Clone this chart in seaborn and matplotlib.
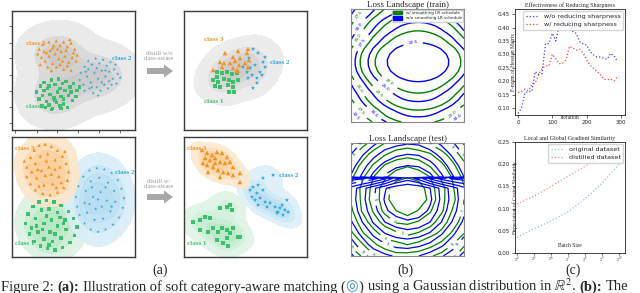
import numpy as np
import pandas as pd
import matplotlib
matplotlib.use("Agg")
import matplotlib.pyplot as plt
from matplotlib.patches import Patch
import seaborn as sns

# ---------------- (a) point clouds, each box is 0..10 x 0..10 ----------------
tl_class3 = [(2.2, 6.8), (2.5, 7.2), (2.8, 6.5), (3.0, 7.4), (3.3, 6.9), (3.6, 7.5), (3.9, 7.1), (4.2, 7.4),
             (4.5, 7.0), (4.8, 7.3), (5.1, 6.8), (5.3, 6.3), (2.4, 6.1), (2.7, 5.8), (3.0, 6.2), (3.3, 5.6),
             (3.5, 6.4), (3.8, 6.0), (4.0, 6.6), (4.3, 6.2), (4.6, 5.7), (4.9, 6.1), (5.2, 5.8), (2.9, 5.3),
             (3.2, 5.0), (3.6, 5.3), (3.9, 5.5), (4.2, 5.1), (4.5, 5.4), (4.8, 5.0), (2.6, 6.6), (3.1, 6.7),
             (3.7, 6.8), (4.4, 6.7), (5.0, 6.5), (2.1, 6.4), (3.4, 7.1), (4.1, 5.8), (2.3, 5.5), (4.7, 7.6)]
tl_class2 = [(5.6, 4.8), (5.9, 5.3), (6.2, 5.8), (6.5, 5.5), (6.8, 6.0), (7.1, 5.6), (7.4, 5.9), (7.7, 5.4),
             (8.0, 5.7), (8.3, 5.1), (8.6, 4.7), (5.5, 4.2), (5.8, 3.8), (6.1, 4.5), (6.4, 4.0), (6.7, 4.8),
             (7.0, 4.3), (7.3, 5.0), (7.6, 4.5), (7.9, 4.9), (8.2, 4.3), (8.5, 3.9), (5.9, 3.3), (6.3, 3.5),
             (6.6, 3.1), (6.9, 3.6), (7.2, 3.3), (7.5, 3.8), (7.8, 3.5), (8.1, 3.8), (6.0, 4.9), (6.9, 5.2),
             (7.6, 5.0), (8.4, 5.5), (7.3, 4.0), (6.5, 3.6), (8.8, 4.4), (6.2, 5.1), (7.9, 4.1), (7.0, 2.9)]
tl_class1 = [(2.0, 3.2), (2.3, 3.7), (2.6, 4.0), (2.9, 3.5), (3.2, 4.2), (3.5, 3.8), (3.8, 4.3), (4.1, 3.9),
             (4.4, 4.1), (4.7, 3.6), (5.0, 3.9), (5.3, 3.3), (2.2, 2.6), (2.5, 2.9), (2.8, 2.4), (3.1, 3.0),
             (3.4, 2.7), (3.7, 3.2), (4.0, 2.8), (4.3, 3.3), (4.6, 2.9), (4.9, 2.5), (5.2, 2.8), (2.4, 2.0),
             (2.7, 1.9), (3.0, 2.1), (3.3, 1.8), (3.6, 2.3), (3.9, 2.0), (4.2, 2.2), (4.5, 1.9), (3.0, 3.7),
             (3.9, 3.5), (4.8, 3.2), (2.6, 3.3), (3.5, 2.5), (4.2, 2.6), (5.5, 3.6), (3.2, 1.7), (4.0, 1.8)]

tr_class3 = [(3.33, 6.47), (4.39, 6.64), (5.20, 6.81), (3.98, 6.13), (4.55, 6.05), (5.12, 6.47), (2.93, 5.71),
             (3.25, 5.63), (3.74, 5.63), (4.15, 5.80), (4.47, 5.46), (4.96, 5.63), (5.20, 5.29), (3.98, 5.21),
             (4.31, 5.04), (2.36, 5.04), (3.09, 5.29), (4.39, 4.96), (5.28, 5.88)]
tr_class2 = [(5.61, 6.81), (6.02, 6.47), (6.42, 5.71), (6.59, 5.29), (6.18, 4.87), (5.77, 5.46), (5.37, 5.21),
             (5.12, 4.87), (5.53, 4.62), (5.93, 4.37), (6.34, 4.62), (5.93, 3.95), (5.61, 3.53), (5.20, 4.37),
             (4.80, 5.29), (6.59, 6.13), (5.28, 6.05)]
tr_class1 = [(2.68, 4.87), (3.09, 4.79), (3.50, 4.87), (3.90, 4.71), (4.31, 4.79), (2.36, 4.20), (2.76, 4.03),
             (3.25, 4.29), (3.66, 4.20), (3.98, 4.03), (4.39, 4.20), (2.52, 3.70), (2.93, 3.61), (3.58, 3.78),
             (3.98, 3.61), (3.66, 3.19), (4.07, 3.19), (2.68, 4.45)]

bl_class3 = [(1.2, 7.5), (1.5, 8.3), (1.8, 8.9), (2.2, 9.3), (2.7, 9.4), (3.2, 9.2), (3.7, 8.9), (4.1, 8.4),
             (4.4, 7.8), (4.6, 7.1), (4.5, 6.4), (4.2, 5.8), (3.7, 5.4), (3.1, 5.2), (2.5, 5.3), (1.9, 5.6),
             (1.5, 6.1), (1.2, 6.7), (1.9, 7.8), (2.3, 8.4), (2.9, 8.6), (3.5, 8.1), (3.9, 7.5), (3.8, 6.7),
             (3.3, 6.1), (2.6, 6.0), (2.0, 6.6), (2.4, 7.2), (3.0, 7.5), (3.2, 6.9), (2.7, 6.8), (2.1, 7.3),
             (3.5, 7.3), (2.8, 8.0), (1.6, 7.1), (4.0, 6.2), (2.2, 5.9), (3.6, 5.8), (4.3, 8.8), (1.0, 8.0)]
bl_class2 = [(5.2, 5.0), (5.4, 5.9), (5.8, 6.7), (6.3, 7.2), (6.9, 7.4), (7.5, 7.3), (8.1, 7.0), (8.6, 6.4),
             (8.9, 5.7), (9.1, 4.9), (9.0, 4.1), (8.7, 3.3), (8.2, 2.7), (7.6, 2.3), (7.0, 2.1), (6.4, 2.3),
             (5.9, 2.8), (5.5, 3.5), (5.3, 4.2), (6.0, 5.5), (6.4, 6.3), (7.1, 6.6), (7.8, 6.2), (8.3, 5.5),
             (8.4, 4.6), (8.0, 3.8), (7.4, 3.2), (6.7, 3.1), (6.1, 3.7), (5.9, 4.5), (6.6, 5.0), (7.2, 5.4),
             (7.7, 4.7), (7.3, 4.2), (6.8, 4.0), (6.5, 5.8), (7.6, 5.8), (8.1, 4.2), (6.3, 4.4), (7.0, 4.8)]
bl_class1 = [(1.1, 2.8), (1.3, 3.6), (1.7, 4.2), (2.2, 4.6), (2.8, 4.7), (3.4, 4.6), (4.0, 4.3), (4.6, 3.8),
             (5.0, 3.2), (5.3, 2.5), (5.1, 1.8), (4.7, 1.2), (4.1, 0.8), (3.5, 0.6), (2.9, 0.7), (2.3, 0.9),
             (1.8, 1.3), (1.4, 1.9), (1.9, 3.2), (2.4, 3.9), (3.0, 4.0), (3.7, 3.7), (4.3, 3.1), (4.4, 2.3),
             (4.0, 1.6), (3.3, 1.3), (2.6, 1.5), (2.1, 2.1), (2.6, 2.8), (3.2, 3.1), (3.7, 2.6), (3.1, 2.1),
             (2.5, 2.3), (3.5, 1.9), (2.0, 2.6), (4.2, 2.8), (2.8, 3.4), (3.9, 3.3), (1.6, 2.4), (3.0, 1.0)]

br_class3 = [(1.46, 8.92), (1.87, 8.67), (2.28, 8.50), (2.68, 8.75), (3.09, 8.67), (3.50, 8.33), (1.71, 8.25),
             (2.11, 8.08), (2.52, 8.25), (2.93, 7.92), (3.33, 7.83), (3.74, 7.92), (3.98, 7.50), (1.87, 7.67),
             (2.36, 7.50), (2.76, 7.25), (3.17, 7.08), (3.58, 7.00), (3.98, 6.83), (2.93, 6.67), (4.55, 7.00),
             (4.55, 6.25), (1.95, 7.08), (2.52, 7.83), (1.54, 7.83)]
br_class2 = [(5.61, 5.83), (6.02, 6.00), (6.42, 5.58), (5.93, 5.33), (5.53, 5.00), (5.77, 4.75), (6.18, 4.92),
             (6.59, 4.58), (6.99, 4.50), (7.40, 4.17), (7.80, 4.08), (8.21, 3.92), (7.64, 3.75), (8.05, 3.50),
             (8.37, 4.75), (7.24, 6.83), (6.42, 6.58), (6.02, 4.33), (5.37, 5.58), (6.75, 4.17), (7.97, 4.33),
             (7.56, 3.67), (8.46, 3.75)]
br_class1 = [(0.73, 2.92), (1.30, 3.08), (1.71, 3.33), (2.11, 3.25), (2.93, 4.08), (3.50, 4.17), (3.90, 3.92),
             (3.74, 4.33), (1.30, 2.25), (2.36, 2.42), (2.76, 2.08), (3.09, 2.42), (3.50, 2.25), (3.74, 2.00),
             (3.98, 2.42), (4.39, 1.67), (3.50, 1.58), (3.17, 1.17), (3.58, 0.92), (4.55, 1.67), (2.68, 1.42),
             (1.95, 2.08)]

# ---------------- (b) loss landscapes ----------------
# train: squared-radius profiles along the two directions (21 x 21 grid over the panel)
train_grid_x = np.linspace(-67, 46, 21)
train_grid_y = np.linspace(-60, 53, 21)
train_fx = [44.9, 37.6, 31.0, 25.05, 19.7, 15.0, 10.96, 7.54, 4.75, 2.61, 1.10, 0.24, 0.01, 0.42, 1.46,
            3.15, 5.48, 8.44, 12.04, 16.28, 21.16]
train_gy = [46.2, 39.1, 34.2, 28.1, 23.0, 19.0, 14.4, 10.2, 5.61, 2.14, 0.31, 0.12, 1.56, 4.63, 9.35,
            13.3, 17.9, 22.0, 26.7, 32.9, 37.9]
train_blue_levels = [9.61, 25.0, 39.7, 56.25, 77.4]
train_blue_labels = ["22.5", "25.0", "27.5", "30.0", "32.5"]
train_green_levels = [18.5, 33.6, 49.0, 67.2, 90.0]
train_green_labels = ["20.0", "22.5", "25.0", "27.5", "30.0"]

# test: coarse grid (11 x 11), rows bottom -> top
test_x = np.arange(11)
test_green_y = np.arange(11)
test_green = [
    [9.7, 8.9, 8.1, 7.8, 7.3, 7.4, 7.5, 7.9, 8.3, 8.8, 9.6],
    [8.8, 8.1, 7.2, 6.5, 6.3, 6.0, 6.3, 6.7, 7.3, 8.0, 8.9],
    [8.2, 7.1, 6.4, 5.5, 5.2, 4.8, 5.1, 5.7, 6.2, 7.2, 8.0],
    [7.5, 6.6, 5.4, 4.7, 3.9, 3.8, 4.1, 4.5, 5.6, 6.4, 7.6],
    [7.2, 5.9, 4.9, 3.7, 3.0, 2.4, 3.1, 3.9, 4.8, 6.1, 7.1],
    [6.9, 5.8, 4.5, 3.5, 2.1, 1.4, 2.3, 3.3, 4.7, 5.7, 7.0],
    [7.1, 5.7, 4.7, 3.4, 2.5, 1.9, 2.4, 3.6, 4.6, 5.9, 6.9],
    [7.2, 6.2, 5.0, 4.2, 3.3, 3.1, 3.4, 4.0, 5.2, 6.1, 7.3],
    [7.8, 6.7, 5.9, 4.9, 4.5, 4.1, 4.4, 5.1, 5.7, 6.8, 7.7],
    [8.3, 7.5, 6.6, 6.1, 5.5, 5.4, 5.6, 5.9, 6.7, 7.4, 8.5],
    [9.2, 8.3, 7.7, 7.0, 6.8, 6.5, 6.7, 7.1, 7.6, 8.4, 9.1],
]
# blue test surface has a spike row just below row 7 (the dense band)
test_blue_y = [0, 1, 2, 3, 4, 5, 6, 6.86, 7, 8, 9, 10]
test_blue = [
    [10.2, 9.3, 8.7, 8.2, 7.9, 7.8, 8.0, 8.4, 8.9, 9.5, 10.3],
    [9.4, 8.5, 7.6, 7.1, 6.7, 6.6, 6.8, 7.2, 7.8, 8.6, 9.5],
    [8.7, 7.7, 6.8, 6.0, 5.6, 5.4, 5.6, 6.1, 6.9, 7.8, 8.8],
    [8.1, 7.0, 5.9, 5.0, 4.5, 4.2, 4.4, 5.0, 6.0, 7.1, 8.2],
    [7.7, 6.5, 5.4, 4.2, 3.5, 3.1, 3.4, 4.2, 5.5, 6.6, 7.8],
    [7.5, 6.3, 5.1, 3.9, 2.8, 2.4, 2.7, 3.8, 5.2, 6.4, 7.6],
    [7.6, 6.4, 5.2, 4.1, 3.3, 3.0, 3.2, 4.0, 5.3, 6.5, 7.7],
    [10.5, 10.2, 9.4, 8.2, 6.4, 5.5, 6.4, 8.2, 9.4, 10.2, 10.5],
    [7.9, 6.8, 5.7, 4.8, 4.2, 4.0, 4.1, 4.7, 5.8, 6.9, 8.0],
    [8.4, 7.4, 6.4, 5.7, 5.2, 5.0, 5.1, 5.6, 6.5, 7.5, 8.5],
    [9.0, 8.1, 7.3, 6.6, 6.2, 6.0, 6.1, 6.6, 7.3, 8.2, 9.1],
    [9.7, 8.9, 8.2, 7.6, 7.3, 7.1, 7.2, 7.6, 8.2, 8.9, 9.8],
]
test_green_levels = [3, 4, 5, 6, 7, 8, 9]
test_blue_levels = [4, 5, 6, 7, 8, 9, 10]

# ---------------- (c) ----------------
iterations = list(range(0, 300, 10))
wo_sharp = [0.08, 0.10, 0.156, 0.162, 0.162, 0.236, 0.225, 0.228, 0.34, 0.34, 0.378, 0.35, 0.405, 0.43, 0.44,
            0.41, 0.385, 0.378, 0.347, 0.339, 0.335, 0.31, 0.298, 0.29, 0.29, 0.285, 0.282, 0.304, 0.294, 0.273]
w_sharp = [0.158, 0.162, 0.17, 0.165, 0.187, 0.193, 0.224, 0.248, 0.257, 0.257, 0.30, 0.285, 0.265, 0.267, 0.28,
           0.33, 0.323, 0.316, 0.319, 0.304, 0.28, 0.26, 0.248, 0.236, 0.224, 0.208, 0.205, 0.208, 0.201, 0.217]
batch_exp = [4, 5, 6, 7, 8, 9, 10]
orig_sim = [0.035, 0.055, 0.072, 0.093, 0.122, 0.157, 0.20]
dist_sim = [0.11, 0.128, 0.15, 0.173, 0.195, 0.22, 0.245]

# ---------------- figure ----------------
sns.set_theme(style="white")
plt.rcParams["font.family"] = ["DejaVu Sans"]
plt.rcParams["mathtext.fontset"] = "stix"
SERIF = ["Liberation Serif", "DejaVu Serif"]

W, H = 640, 293
fig = plt.figure(figsize=(W / 100, H / 100), dpi=100)
fig.patch.set_facecolor("white")


def px_axes(x0, y0, x1, y1):
    return fig.add_axes([x0 / W, 1 - y1 / H, (x1 - x0) / W, (y1 - y0) / H])


C1, C2, C3 = "#3cc06a", "#2aa6dc", "#f7921e"
palette = {"class 1": C1, "class 2": C2, "class 3": C3}
markers = {"class 1": "s", "class 2": "*", "class 3": "^"}
shade = {"class 1": ["#e6f6eb", "#b0e4c0"], "class 2": ["#e4f2fa", "#acd9ef"],
         "class 3": ["#fdeedb", "#f9c98f"]}
gray_shade = sns.blend_palette(["#f3f3f3", "#c9c9c9"], as_cmap=True)


def to_frame(c1, c2, c3):
    rows = []
    for name, pts in (("class 1", c1), ("class 2", c2), ("class 3", c3)):
        for x, y in pts:
            rows.append((name, x, y))
    return pd.DataFrame(rows, columns=["cls", "x", "y"])


def cloud_panel(ax, df, colored, msize, labels, ticks=False):
    if colored:
        for name, sub in df.groupby("cls"):
            sns.kdeplot(data=sub, x="x", y="y", fill=True, levels=5, thresh=0.05, bw_adjust=1.1,
                        cmap=sns.blend_palette(shade[name], as_cmap=True), alpha=0.9, ax=ax)
    else:
        sns.kdeplot(data=df, x="x", y="y", fill=True, cmap=gray_shade, levels=5, thresh=0.02,
                    bw_adjust=1.3, ax=ax)
    sns.scatterplot(data=df, x="x", y="y", hue="cls", style="cls", palette=palette, markers=markers,
                    s=msize, linewidth=0, legend=False, ax=ax)
    for name, (lx, ly) in labels.items():
        ax.text(lx, ly, name, color=palette[name], fontsize=5, fontweight="bold", family=SERIF,
                va="center")
    ax.set_xlim(0, 10)
    ax.set_ylim(0, 10)
    ax.set_xlabel("")
    ax.set_ylabel("")
    for s in ax.spines.values():
        s.set_color("#3a3a3a")
        s.set_linewidth(1.0)
    if ticks:
        ax.set_xticks([0.24, 2.03, 3.66, 5.37, 7.07, 8.78])
        ax.set_yticks([0.59, 1.93, 3.28, 4.62, 6.05, 7.31, 8.74])
        ax.tick_params(left=True, bottom=True, length=2, width=0.6, color="#555555",
                       labelleft=False, labelbottom=False, direction="out")
    else:
        ax.set_xticks([])
        ax.set_yticks([])


ax = px_axes(12, 11, 135, 130)
cloud_panel(ax, to_frame(tl_class1, tl_class2, tl_class3), False, 6,
            {"class 3": (1.1, 7.3), "class 2": (8.1, 6.0), "class 1": (1.1, 2.0)}, ticks=True)
ax = px_axes(184, 11, 307, 130)
cloud_panel(ax, to_frame(tr_class1, tr_class2, tr_class3), False, 11,
            {"class 3": (1.6, 7.6), "class 2": (7.0, 5.7), "class 1": (1.6, 2.4)})
ax = px_axes(12, 137, 135, 257)
cloud_panel(ax, to_frame(bl_class1, bl_class2, bl_class3), True, 6,
            {"class 3": (0.25, 9.0), "class 2": (8.4, 7.0), "class 1": (0.25, 1.1)})
ax = px_axes(184, 137, 307, 257)
cloud_panel(ax, to_frame(br_class1, br_class2, br_class3), True, 11,
            {"class 3": (0.25, 9.0), "class 2": (7.7, 6.8), "class 1": (0.25, 1.1)})

# ---- (b) ----
ax = px_axes(351, 9, 464, 122)
z_train = np.add.outer(train_gy, train_fx)
cg = ax.contour(train_grid_x, train_grid_y, z_train, levels=train_green_levels, colors="green",
                linewidths=1.0)
cb = ax.contour(train_grid_x, train_grid_y, z_train, levels=train_blue_levels, colors="blue",
                linewidths=1.0)
ax.clabel(cg, fontsize=3.2, fmt=dict(zip(train_green_levels, train_green_labels)))
ax.clabel(cb, fontsize=3.2, fmt=dict(zip(train_blue_levels, train_blue_labels)))
ax.set_xlim(-67, 46)
ax.set_ylim(-60, 53)
ax.legend(handles=[Patch(color="green", label="w/ smoothing LR schedule"),
                   Patch(color="blue", label="w/o smoothing LR schedule")],
          loc="upper right", fontsize=3, handlelength=2.2, handleheight=0.8, borderpad=0.3,
          labelspacing=0.3, borderaxespad=0.2, framealpha=0.9)
ax.set_title("Loss Landscape (train)", fontsize=6.4, family=SERIF, pad=1.5)

ax2 = px_axes(351, 143, 464, 256)
cg = ax2.contour(test_x, test_green_y, np.array(test_green), levels=test_green_levels, colors="green",
                 linewidths=0.9)
cb = ax2.contour(test_x, test_blue_y, np.array(test_blue), levels=test_blue_levels, colors="blue",
                 linewidths=0.9)
ax2.clabel(cg, fontsize=3, fmt="%d")
ax2.clabel(cb, [5, 7, 9], fontsize=3, fmt="%d")
ax2.set_xlim(0, 10)
ax2.set_ylim(0, 10)
ax2.set_title("Loss Landscape (test)", fontsize=6.4, family=SERIF, pad=1.5)
for a in (ax, ax2):
    a.set_xticks([])
    a.set_yticks([])
    for s in a.spines.values():
        s.set_color("#888888")
        s.set_linewidth(0.8)

# ---- (c) ----
ax = px_axes(515, 9, 625, 115)
df_sharp = pd.DataFrame({"iter": iterations * 2,
                         "val": wo_sharp + w_sharp,
                         "kind": ["w/o reducing sharpness"] * len(iterations) + ["w/ reducing sharpness"] * len(iterations)})
sns.lineplot(data=df_sharp, x="iter", y="val", hue="kind", palette=["blue", "red"], ax=ax,
             linestyle=":", linewidth=0.9, alpha=0.75)
ax.set_xlim(-9, 312)
ax.set_ylim(0.074, 0.469)
ax.set_xticks([0, 100, 200, 300])
ax.set_yticks([0.10, 0.15, 0.20, 0.25, 0.30, 0.35, 0.40, 0.45])
ax.set_title("Effectiveness of Reducing Sharpness", fontsize=4.3, family=SERIF, pad=1.5)
ax.set_xlabel("")
ax.set_ylabel("")
ax.text(-0.01, 0.5, "F-norm of Hessian Matrix", rotation=90, transform=ax.transAxes, ha="center",
        va="center", fontsize=4, family=SERIF)
ax.text(0.5, -0.02, "Iteration", transform=ax.transAxes, ha="center", va="center", fontsize=4, family=SERIF)
ax.legend(loc="upper right", fontsize=4.6, handlelength=2, borderpad=0.4, labelspacing=0.4,
          borderaxespad=0.3)

ax3 = px_axes(515, 142, 625, 253)
df_sim = pd.DataFrame({"b": batch_exp * 2, "val": orig_sim + dist_sim,
                       "kind": ["original dataset"] * 7 + ["distilled dataset"] * 7})
sns.lineplot(data=df_sim, x="b", y="val", hue="kind", palette=["#7fc8ee", "#ff8a8a"], ax=ax3,
             linestyle=":", linewidth=0.9)
ax3.set_xlim(3.88, 10.35)
ax3.set_ylim(0, 0.25)
ax3.set_xticks(batch_exp)
ax3.set_xticklabels([f"$2^{{{b}}}$" for b in batch_exp])
ax3.set_yticks([0.0, 0.05, 0.10, 0.15, 0.20, 0.25])
ax3.set_title("Local and Global Gradient Similarity", fontsize=4.3, family=SERIF, pad=1.5)
ax3.set_xlabel("")
ax3.set_ylabel("")
ax3.text(0.005, 0.5, "Expectation of Cosine Similarity", rotation=90, transform=ax3.transAxes,
         ha="center", va="center", fontsize=4, family=SERIF)
ax3.text(0.5, 0.07, "Batch Size", transform=ax3.transAxes, ha="center", va="center", fontsize=4, family=SERIF)
ax3.legend(loc="upper right", fontsize=4.6, handlelength=2, borderpad=0.4, labelspacing=0.4,
           borderaxespad=0.3)
for a in (ax, ax3):
    a.tick_params(left=True, bottom=True, length=2, width=0.5, pad=1.5, labelsize=4, color="#333333")
    for s in a.spines.values():
        s.set_color("#222222")
        s.set_linewidth(0.6)
ax3.tick_params(axis="x", labelsize=3.0, pad=0.3, length=1.2)

# ---- overlay: arrows, sub-captions, caption ----
ov = fig.add_axes([0, 0, 1, 1])
ov.set_xlim(0, W)
ov.set_ylim(H, 0)
ov.axis("off")
ov.patch.set_alpha(0)
for y_txt, y_arr, txt in ((56, 71, "distill w/o\nclass-aware"), (184, 197, "distill w/\nclass-aware")):
    ov.text(159, y_txt, txt, ha="center", va="center", fontsize=4.7, color="#9a9a9a", family=SERIF,
            linespacing=1.1)
    ov.arrow(147, y_arr, 26, 0, width=6, head_width=13, head_length=9, length_includes_head=True,
             color="#a8a8a8", lw=0)
for x, lab in ((160, "(a)"), (405, "(b)"), (573, "(c)")):
    ov.text(x, 270, lab, ha="center", va="center", fontsize=10, family=SERIF)

renderer = fig.canvas.get_renderer()
cap_size = 10.45
parts = [("Figure 2:", {}, 1), ("(a):", {"fontweight": "bold"}, 1),
         ("Illustration of soft category-aware matching (", {}, 0),
         ("\u25ce", {"color": "#2a8fd8", "family": ["DejaVu Sans"]}, 0),
         (")", {}, 1), ("using a Gaussian distribution in $\\mathbb{R}^2$.", {}, 1),
         ("(b):", {"fontweight": "bold"}, 1), ("The", {}, 0)]
xcur = 1.0
for txt, kw, gap in parts:
    opts = {"family": SERIF, "fontsize": cap_size, "va": "baseline", "ha": "left"}
    opts.update(kw)
    t = fig.text(xcur / W, 1 - 290.5 / H, txt, **opts)
    bb = t.get_window_extent(renderer)
    xcur = bb.x1 + gap * cap_size * 100 / 72 * 0.25

fig.savefig("out.png", dpi=100)
